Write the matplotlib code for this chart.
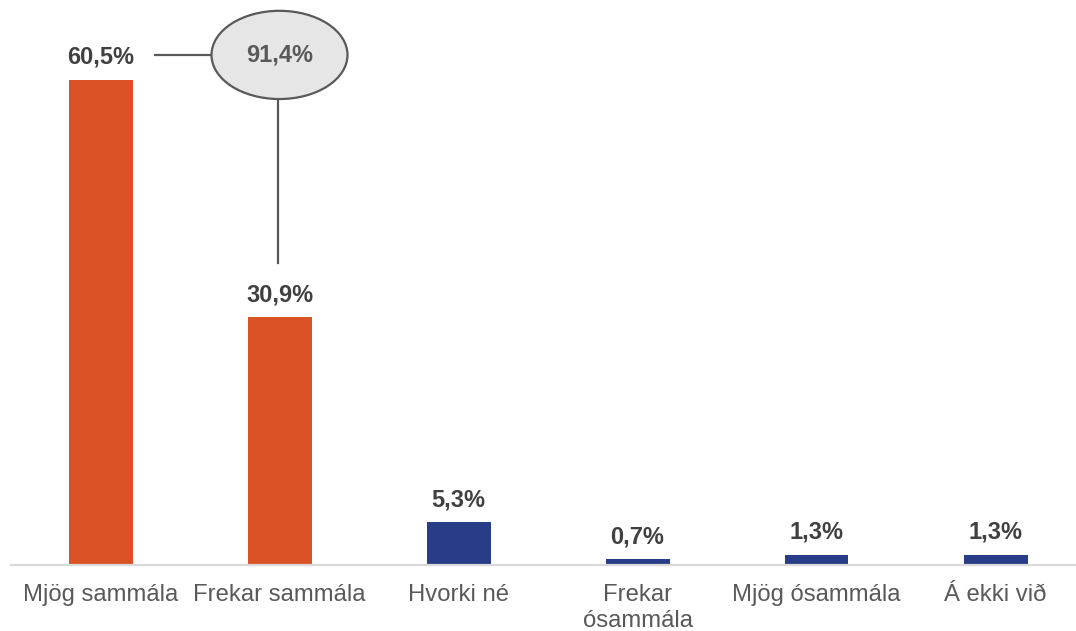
import matplotlib
matplotlib.use("Agg")
import matplotlib.pyplot as plt
from matplotlib.patches import Ellipse

categories = ["Mjög sammála", "Frekar sammála", "Hvorki né", "Frekar\nósammála", "Mjög ósammála", "Á ekki við"]
values = [60.5, 30.9, 5.3, 0.7, 1.3, 1.3]
groups = ["agree", "agree", "other", "other", "other", "other"]
group_colors = {"agree": "#DA5225", "other": "#283D87"}

def fmt(v):
    return f"{v:.1f}".replace(".", ",") + "%"

plt.rcParams["font.family"] = ["Liberation Sans", "DejaVu Sans"]

W, H = 1076, 631
fig = plt.figure(figsize=(W / 100, H / 100), dpi=100)
px_per_unit = 179.0
left_px, base_px, top_px = 11, 565, 0
ax = fig.add_axes([left_px / W, (H - base_px) / H, (W - left_px) / W, (base_px - top_px) / H])
ax.set_xlim(-0.5, -0.5 + (W - left_px) / px_per_unit)
ax.set_ylim(0, (base_px - top_px) / 8.02)

x = list(range(len(categories)))
ax.bar(x, values, width=64 / px_per_unit, color=[group_colors[g] for g in groups], zorder=2)

for xi, v in zip(x, values):
    ax.annotate(fmt(v), (xi, v), xytext=(0, 11.5), textcoords="offset points",
                ha="center", va="baseline", fontsize=17, fontweight="bold", color="#404040")

for s in ["top", "right", "left"]:
    ax.spines[s].set_visible(False)
ax.spines["bottom"].set_color("#D9D9D9")
ax.spines["bottom"].set_linewidth(1.6)
ax.set_yticks([])
ax.set_xticks(x)
ax.set_xticklabels(categories, fontsize=17.2, color="#595959", linespacing=1.25)
ax.tick_params(axis="x", length=0, pad=13.5)

# Combined agreement bubble
total = values[0] + values[1]
ecx, ecy = 1.0, 63.6
ew, eh = 136 / px_per_unit, 11.0
ax.add_patch(Ellipse((ecx, ecy), ew, eh, facecolor="#E6E6E6", edgecolor="#595959",
                     linewidth=1.6, zorder=3, clip_on=False))
ax.text(ecx, ecy, fmt(total), ha="center", va="center", fontsize=17, fontweight="bold",
        color="#595959", zorder=4)
ax.plot([0.307, ecx - ew / 2], [ecy, ecy], color="#595959", linewidth=1.6, zorder=2, clip_on=False)
ax.plot([ecx - 0.01, ecx - 0.01], [ecy - eh / 2, values[1] + 6.8], color="#595959",
        linewidth=1.6, zorder=2, clip_on=False)

fig.savefig("out.png", dpi=100)
